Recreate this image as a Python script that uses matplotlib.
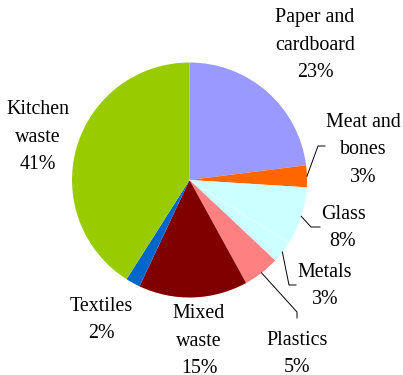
"""
Municipal waste composition pie chart.
"""

import numpy as np
import matplotlib
matplotlib.use("Agg")
import matplotlib.pyplot as plt


CATEGORIES = ["Paper and\ncardboard", "Meat and\nbones", "Glass", "Metals",
              "Plastics", "Mixed\nwaste", "Textiles", "Kitchen\nwaste"]
SHARES = [23, 3, 8, 3, 5, 15, 2, 41]
COLORS = ["#9999FF", "#FF6600", "#CCFFFF", "#CCFFFF",
          "#FF8080", "#800000", "#0066CC", "#99CC00"]

W, H = 403, 375
CENTER = (189.5, 180.0)   # pixel coords, y down
RADIUS = 117.5

# label centres (pixel coords) and leader line elbows
LABEL_POS = [(315, 45), (363, 150), (343, 228), (325, 286),
             (297, 354), (199, 341), (101, 320), (38, 137)]
LEADERS = {
    1: [(318, 146), (325, 146)],
    2: [(311, 227), (320, 227)],
    3: [(289, 285), (296, 285)],
    4: [(297, 312), (297, 318)],
}


def px(x, y):
    """Pixel (y down) to data coords (y up)."""
    return x, H - y


def main():
    plt.rcParams["font.family"] = ["Liberation Serif", "DejaVu Serif"]
    fig = plt.figure(figsize=(W / 100, H / 100), dpi=100)
    ax = fig.add_axes([0, 0, 1, 1])
    ax.set_xlim(0, W)
    ax.set_ylim(0, H)
    ax.set_aspect("equal")
    ax.axis("off")

    cx, cy = px(*CENTER)
    wedges, _ = ax.pie(SHARES, colors=COLORS, startangle=90, counterclock=False,
                       center=(cx, cy), radius=RADIUS,
                       wedgeprops=dict(edgecolor="none", linewidth=0))
    ax.set_xlim(0, W)
    ax.set_ylim(0, H)

    # faint seam between glass and metals
    seam = np.deg2rad(wedges[2].theta1)
    ax.plot([cx, cx + RADIUS * np.cos(seam)], [cy, cy + RADIUS * np.sin(seam)],
            color="#E6FFFF", linewidth=0.6)

    total = float(sum(SHARES))
    for i, (name, val) in enumerate(zip(CATEGORIES, SHARES)):
        text = f"{name}\n{int(round(val / total * 100))}%"
        lx, ly = px(*LABEL_POS[i])
        ax.text(lx, ly, text, ha="center", va="center", multialignment="center",
                fontsize=14.4, linespacing=1.62, color="black")

        if i in LEADERS:
            w = wedges[i]
            mid = np.deg2rad((w.theta1 + w.theta2) / 2)
            xs = [cx + RADIUS * np.cos(mid)]
            ys = [cy + RADIUS * np.sin(mid)]
            for ex, ey in LEADERS[i]:
                dx, dy = px(ex, ey)
                xs.append(dx)
                ys.append(dy)
            ax.plot(xs, ys, color="black", linewidth=0.7)

    fig.savefig("out.png", dpi=100)
    plt.close(fig)


if __name__ == "__main__":
    main()
